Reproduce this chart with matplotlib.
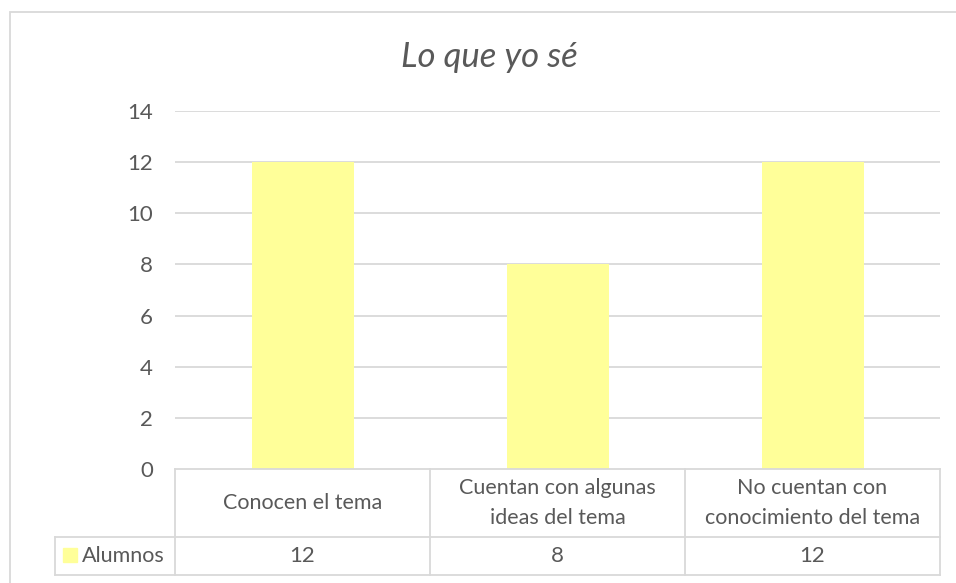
import numpy as np
import matplotlib.pyplot as plt
import matplotlib.transforms as mtransforms
from matplotlib.patches import Rectangle

# ============================================================================
# DONNÉES
# ============================================================================

categorias = ["Conocen el tema",
              "Cuentan con algunas\nideas del tema",
              "No cuentan con\nconocimiento del tema"]
alumnos = [12, 8, 12]
serie = "Alumnos"
titulo = "Lo que yo sé"
yticks = [0, 2, 4, 6, 8, 10, 12, 14]

# ============================================================================
# STYLE
# ============================================================================

plt.rcParams['font.family'] = ['Lato', 'DejaVu Sans']
gris_texte = '#595959'
gris_ligne = '#d9d9d9'
jaune = '#ffff99'

W, H = 956, 583
fig = plt.figure(figsize=(W / 100, H / 100), dpi=100)

# zone de tracé en pixels (gauche, haut, droite, bas)
px_l, px_t, px_r, px_b = 175, 111, 940, 469
ax = fig.add_axes([px_l / W, 1 - px_b / H, (px_r - px_l) / W, (px_b - px_t) / H])

x = np.arange(len(categorias))
ax.bar(x, alumnos, width=0.4, color=jaune, zorder=2)

ax.set_xlim(-0.5, len(categorias) - 0.5)
ax.set_ylim(0, 14)
ax.set_yticks(yticks)
ax.set_yticklabels([str(t) for t in yticks], fontsize=16, color=gris_texte)
ax.tick_params(axis='y', length=0, pad=16)
ax.set_xticks([])
for s in ax.spines.values():
    s.set_visible(False)
for t in yticks[1:]:
    ax.axhline(t, color=gris_ligne, lw=1.3, zorder=1)

# ============================================================================
# TABLEAU DE DONNÉES SOUS LE GRAPHIQUE
# ============================================================================

trans = mtransforms.blended_transform_factory(ax.transData, ax.transAxes)
h_ax = px_b - px_t
y0 = 0.0
y1 = -(537 - px_b) / h_ax
y2 = -(575 - px_b) / h_ax
x_leg = -0.5 - (px_l - 55) / ((px_r - px_l) / len(categorias))

kw = dict(color=gris_ligne, lw=1.3, transform=trans, clip_on=False, zorder=3)
ax.plot([-0.5, 2.5], [y0, y0], **kw)
ax.plot([x_leg, 2.5], [y1, y1], **kw)
ax.plot([x_leg, 2.5], [y2, y2], **kw)
ax.plot([x_leg, x_leg], [y1, y2], **kw)
for b in np.arange(-0.5, len(categorias)):
    ax.plot([b, b], [y0, y2], **kw)

for i, (c, v) in enumerate(zip(categorias, alumnos)):
    ax.text(i, (y0 + y1) / 2, c, transform=trans, ha='center', va='center',
            fontsize=15.5, color=gris_texte, linespacing=1.6)
    ax.text(i, (y1 + y2) / 2, str(v), transform=trans, ha='center', va='center',
            fontsize=16, color=gris_texte)

# légende dans la table
fig.patches.append(Rectangle((63 / W, 1 - 562 / H), 14 / W, 14 / H,
                             transform=fig.transFigure, color=jaune))
fig.text(82 / W, 1 - 556 / H, serie, ha='left', va='center',
         fontsize=15.5, color=gris_texte)

# titre
fig.text(489 / W, 1 - 57 / H, titulo, ha='center', va='center',
         fontsize=25, style='italic', color=gris_texte)

# cadre extérieur
fig.patches.append(Rectangle((10 / W, -0.05), 1.0, 1 - 12 / H + 0.05,
                             transform=fig.transFigure, fill=False,
                             edgecolor=gris_ligne, lw=1.3))

fig.savefig('out.png', dpi=100)
